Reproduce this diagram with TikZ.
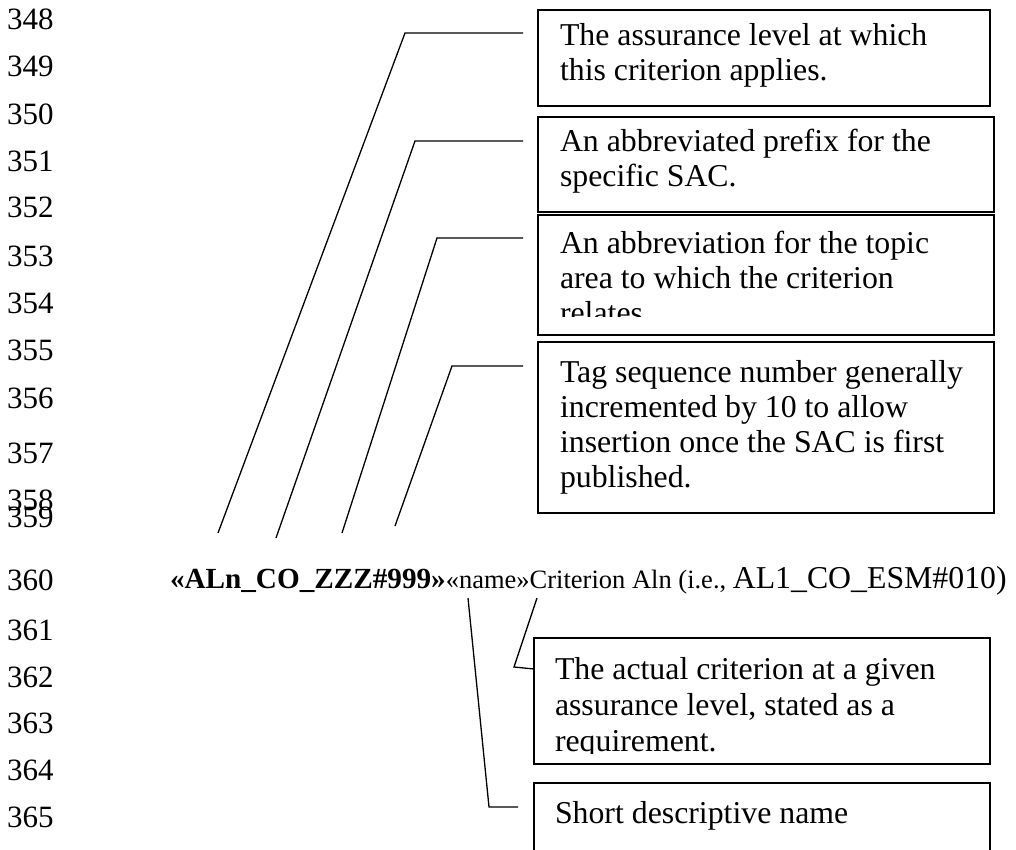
\documentclass[tikz,border=0pt]{standalone}
\usepackage{fontspec}
\setmainfont{Liberation Serif}
\begin{document}
\begin{tikzpicture}[x=1pt,y=-1pt,
  num/.style={inner sep=0pt, outer sep=0pt, anchor=base west, font=\fontsize{31}{35}\selectfont},
  lbl/.style={inner sep=0pt, outer sep=0pt, anchor=base west, font=\fontsize{31.8}{35}\selectfont},
  callout/.style={draw, line width=1.6pt, inner sep=0pt, outer sep=0pt, anchor=north west},
  leader/.style={line width=1.3pt, line join=miter}]
\useasboundingbox (0,0) rectangle (1016,850);
\clip (0,0) rectangle (1016,850);

% line numbers down the margin
\foreach \n/\y in {348/30, 349/77, 350/125, 351/172, 352/218, 353/266, 354/313,
                   355/360, 356/408, 357/463, 358/510, 359/527, 360/590, 361/640,
                   362/687, 363/733, 364/780, 365/827}
  \node[num] (ln\n) at (7,\y) {\n};

% explanation boxes
\node[callout, minimum width=452pt, minimum height=96pt]  (b1) at (538,10)  {};
\node[callout, minimum width=456pt, minimum height=95pt]  (b2) at (538,117) {};
\node[callout, minimum width=456pt, minimum height=120pt] (b3) at (538,215) {};
\node[callout, minimum width=456pt, minimum height=171pt] (b4) at (538,342) {};
\node[callout, minimum width=456pt, minimum height=126pt] (b5) at (534,638) {};
\node[callout, minimum width=456pt, minimum height=100pt] (b6) at (534,783) {};

\node[lbl] (t1a) at ([shift={(22,36)}]b1.north west) {The assurance level at which};
\node[lbl] (t1b) at ([shift={(22,71)}]b1.north west) {this criterion applies.};

\node[lbl] (t2a) at ([shift={(22,35)}]b2.north west) {An abbreviated prefix for the};
\node[lbl] (t2b) at ([shift={(22,70)}]b2.north west) {specific SAC.};

\node[lbl] (t3a) at ([shift={(22,38)}]b3.north west) {An abbreviation for the topic};
\node[lbl] (t3b) at ([shift={(22,73)}]b3.north west) {area to which the criterion};
% the last line runs past the box's text area and is cut off
\begin{scope}
  \clip (b3.north west) rectangle ([yshift=19pt]b3.south east);
  \node[lbl] (t3c) at ([shift={(22,108)}]b3.north west) {relates};
\end{scope}

\node[lbl] (t4a) at ([shift={(22,40)}]b4.north west) {Tag sequence number generally};
\node[lbl] (t4b) at ([shift={(22,75)}]b4.north west) {incremented by 10 to allow};
\node[lbl] (t4c) at ([shift={(22,110)}]b4.north west) {insertion once the SAC is first};
\node[lbl] (t4d) at ([shift={(22,145)}]b4.north west) {published.};

\node[lbl] (t5a) at ([shift={(21,41)}]b5.north west) {The actual criterion at a given};
\node[lbl] (t5b) at ([shift={(21,77)}]b5.north west) {assurance level, stated as a};
\begin{scope}
  \clip (b5.north west) rectangle ([yshift=11pt]b5.south east);
  \node[lbl] (t5c) at ([shift={(21,113)}]b5.north west) {requirement.};
\end{scope}

\node[lbl] (t6a) at ([shift={(21,40)}]b6.north west) {Short descriptive name};

% the tag line being explained
\node[inner sep=0pt, outer sep=0pt, anchor=base west] (tag) at (170,588)
  {{\fontsize{29.2}{33}\selectfont\bfseries «ALn\_CO\_ZZZ\#999»}%
   {\fontsize{26.5}{33}\selectfont «name»Criterion Aln (i.e., }%
   {\fontsize{31.8}{33}\selectfont AL1\_CO\_ESM\#010)}};

% leader lines from the tag parts to their boxes
\coordinate (a1) at (218,533); \coordinate (c1) at (405,33);  \coordinate (h1) at (523,33);
\coordinate (a2) at (276,538); \coordinate (c2) at (415,141); \coordinate (h2) at (523,141);
\coordinate (a3) at (342,533); \coordinate (c3) at (437,238); \coordinate (h3) at (523,238);
\coordinate (a4) at (395,526); \coordinate (c4) at (452,366); \coordinate (h4) at (523,366);
\draw[leader] (a1) -- (c1) -- (h1);
\draw[leader] (a2) -- (c2) -- (h2);
\draw[leader] (a3) -- (c3) -- (h3);
\draw[leader] (a4) -- (c4) -- (h4);

\coordinate (a5) at (537,598); \coordinate (c5) at (514,667); \coordinate (h5) at (534,669);
\coordinate (a6) at (468,598); \coordinate (c6) at (489,807); \coordinate (h6) at (518,807);
\draw[leader] (a5) -- (c5) -- (h5);
\draw[leader] (a6) -- (c6) -- (h6);
\end{tikzpicture}
\end{document}
